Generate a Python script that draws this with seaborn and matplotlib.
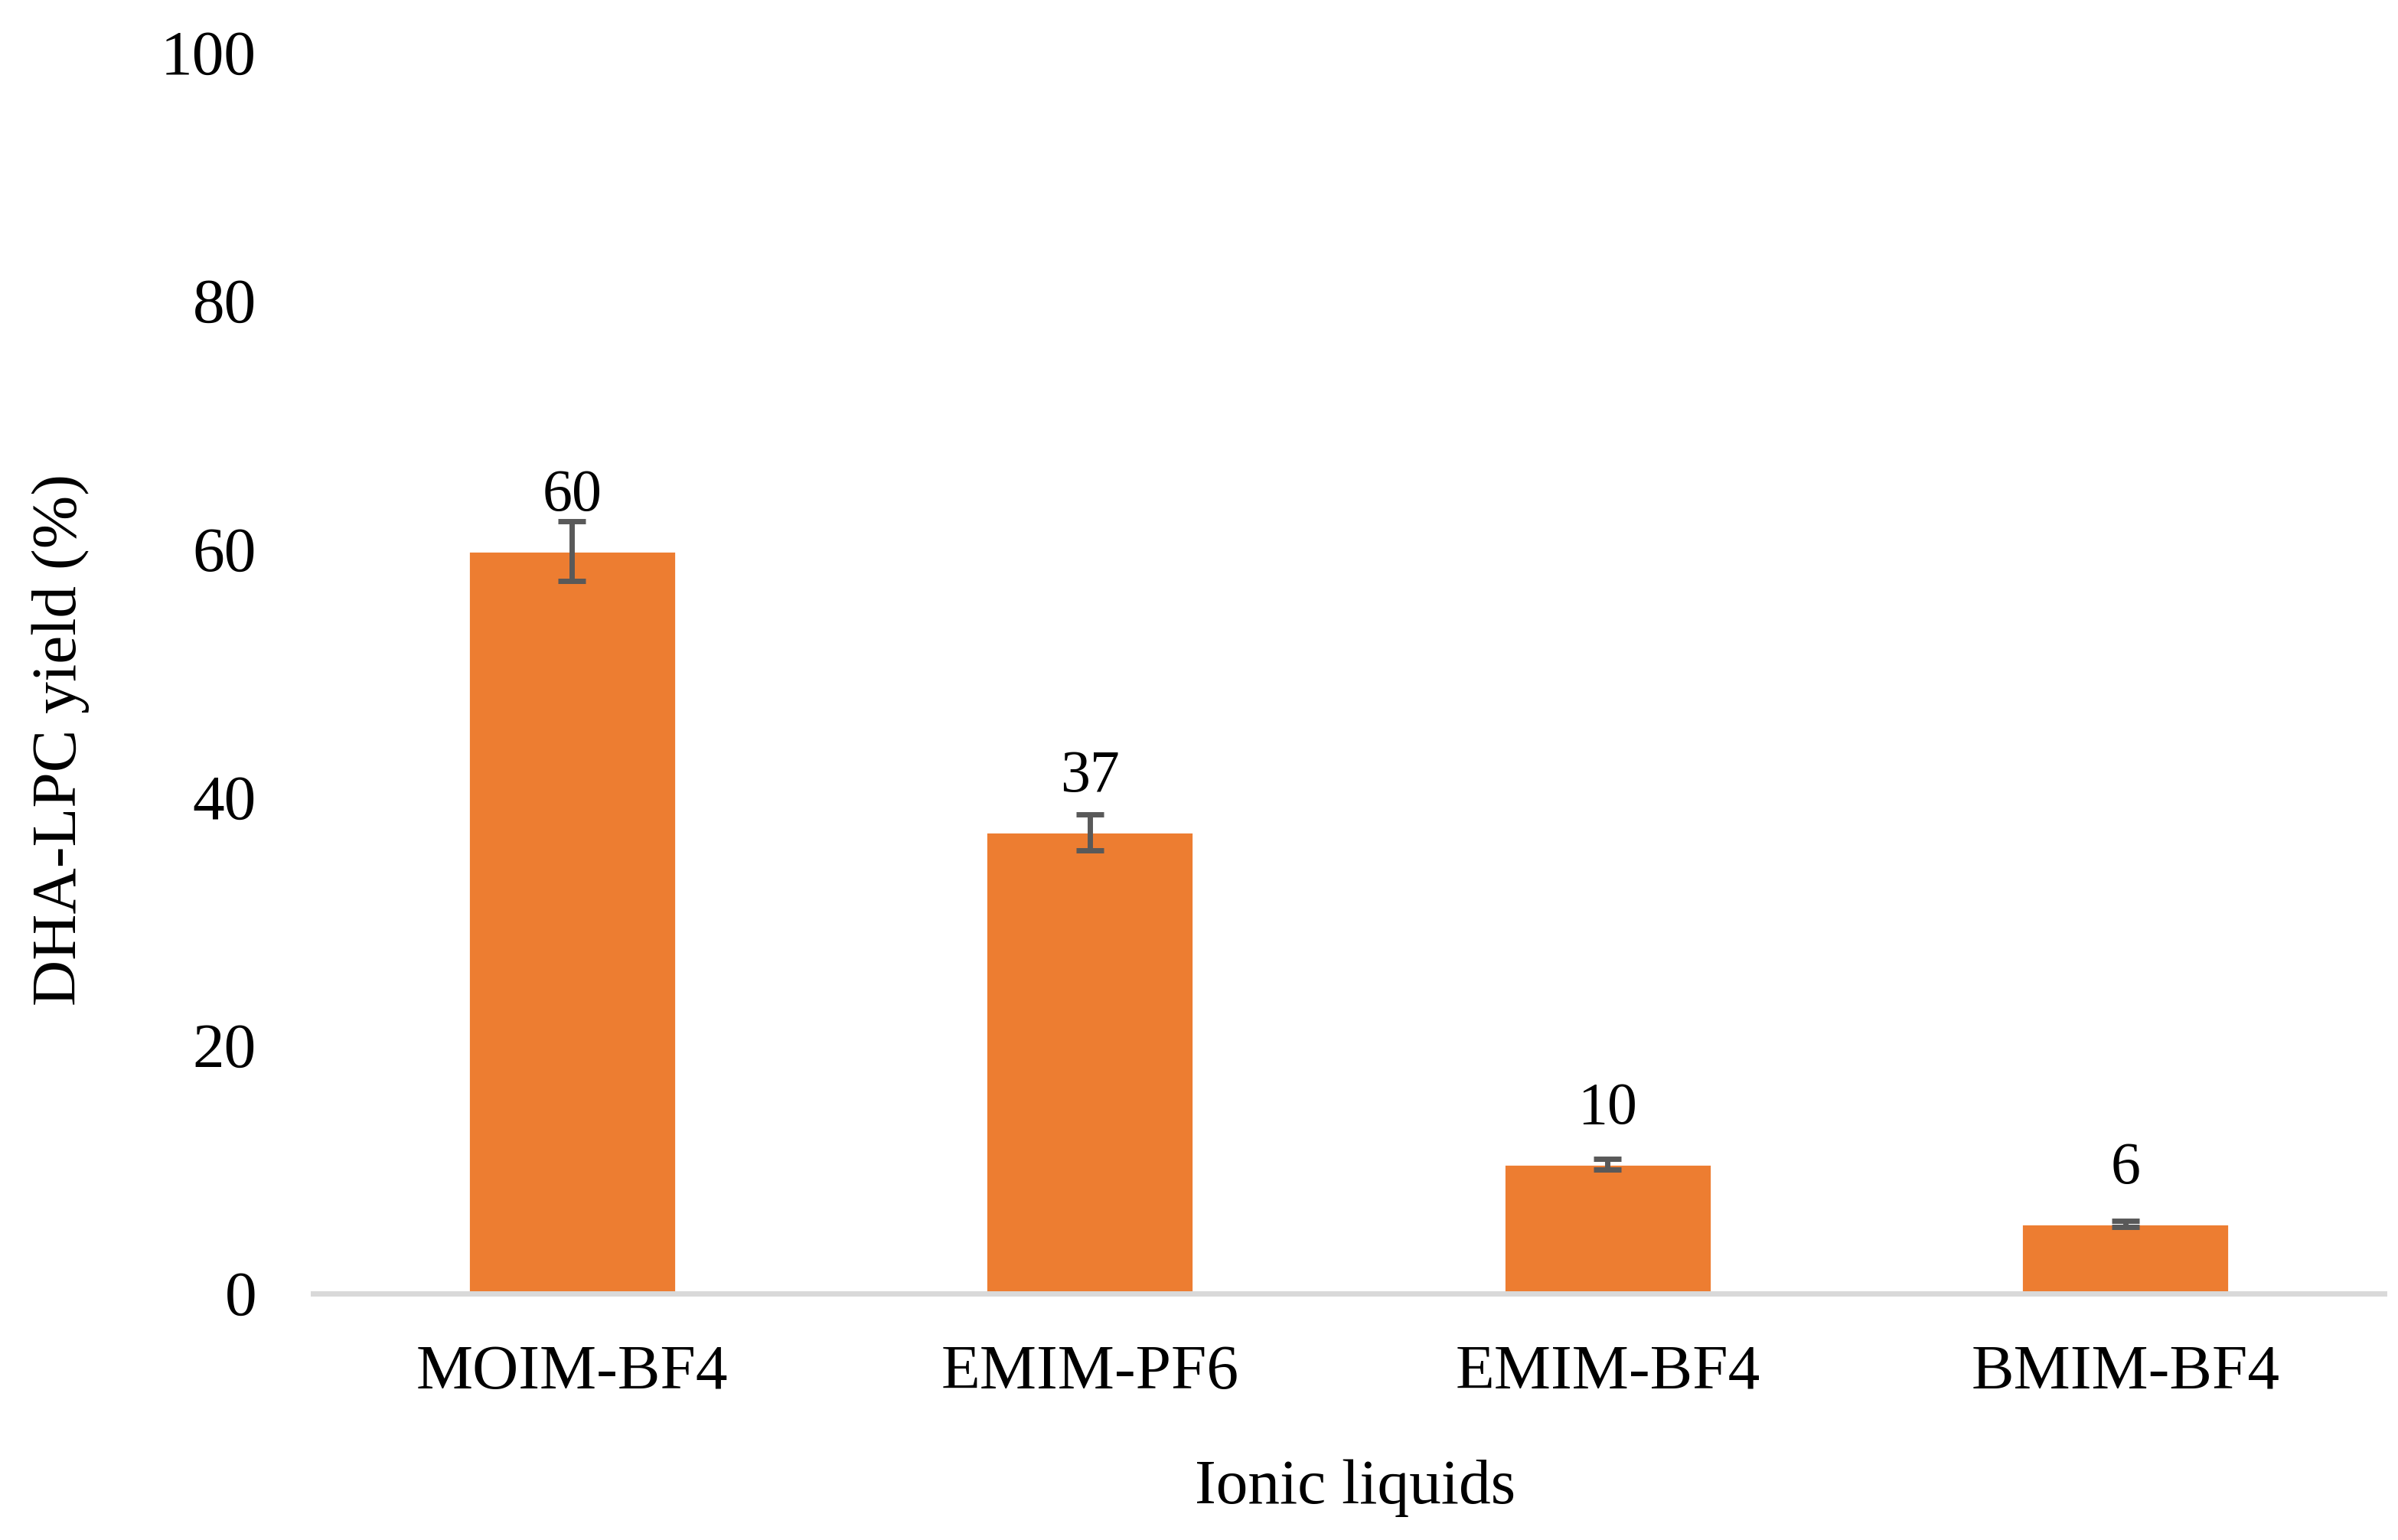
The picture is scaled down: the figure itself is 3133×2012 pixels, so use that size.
import matplotlib
matplotlib.use('Agg')
import matplotlib.pyplot as plt
import seaborn as sns

# data
liquids = ['MOIM-BF4', 'EMIM-PF6', 'EMIM-BF4', 'BMIM-BF4']
yields = [59.8, 37.15, 10.4, 5.58]
errors = [2.4, 1.45, 0.42, 0.25]
yticks = [0, 20, 40, 60, 80, 100]

sns.set_theme(style='white')
plt.rcParams['font.family'] = ['Liberation Serif', 'DejaVu Serif']

fig = plt.figure(figsize=(3133 / 200, 2012 / 200), dpi=200)
ax = fig.add_axes([409 / 3133, 1 - 1689.5 / 2012, (3115 - 409) / 3133, (1689.5 - 68) / 2012])

sns.barplot(x=liquids, y=yields, color='#ED7D31', saturation=1, width=0.4,
            errorbar=None, ax=ax, zorder=2)
ax.errorbar(range(len(liquids)), yields, yerr=errors, fmt='none',
            ecolor='#595959', elinewidth=2.5, capsize=6.5, capthick=2.5, zorder=3)

for i, v in enumerate(yields):
    ax.annotate(f'{v:.0f}', (i, v), xytext=(0, 19), textcoords='offset points',
                ha='center', va='baseline', fontsize=28, color='black')

ax.set_xlim(-0.5, len(liquids) - 0.5)
ax.set_ylim(0, 100)
ax.set_yticks(yticks)
ax.tick_params(axis='both', length=0, labelsize=30, colors='black')
ax.tick_params(axis='y', pad=26.6)
ax.tick_params(axis='x', pad=24)

for s in ['top', 'right', 'left']:
    ax.spines[s].set_visible(False)
ax.spines['bottom'].set_color('#D9D9D9')
ax.spines['bottom'].set_linewidth(2.5)
ax.spines['bottom'].set_zorder(4)

ax.set_xlabel('Ionic liquids', fontsize=30, color='black')
ax.set_ylabel('DHA-LPC yield (%)', fontsize=30, color='black')
ax.xaxis.set_label_coords(0.503, -0.134)
ax.xaxis.label.set_va('top')
ax.yaxis.set_label_coords(-0.1079, 0.446)

fig.savefig('out.png', dpi=200, facecolor='white')
